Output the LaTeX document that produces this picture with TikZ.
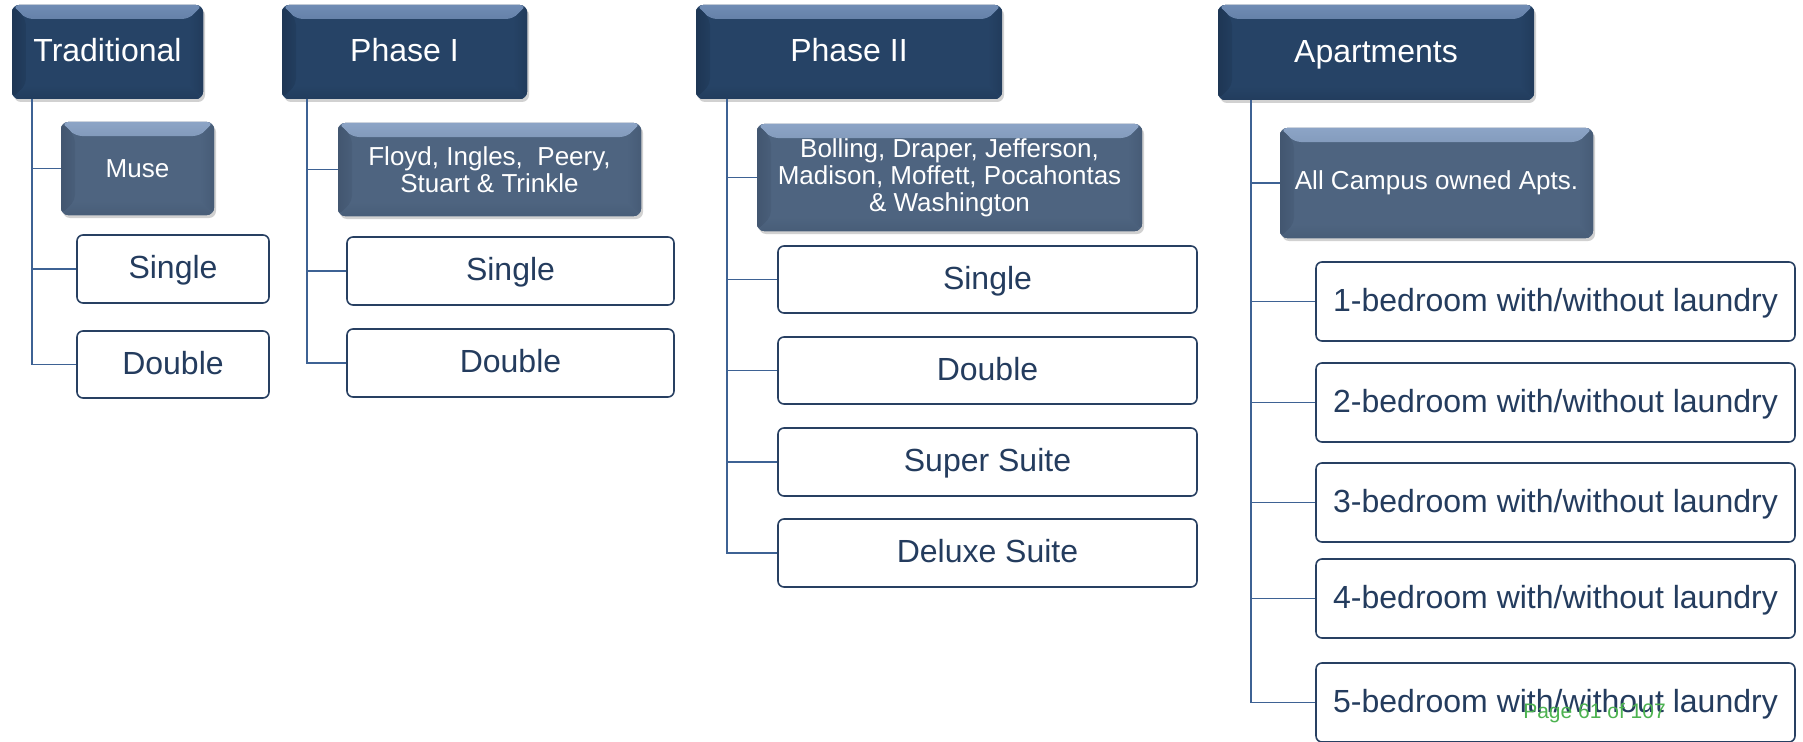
\documentclass[tikz,border=0pt]{standalone}
\usepackage{fontspec}
\setmainfont{Liberation Sans}
\usetikzlibrary{shadows,calc}
\definecolor{navy}{RGB}{38,67,102}
\definecolor{navylight}{RGB}{112,140,180}
\definecolor{navydark}{RGB}{30,54,84}
\definecolor{slate}{RGB}{78,100,128}
\definecolor{slatelight}{RGB}{140,164,198}
\definecolor{slatedark}{RGB}{66,86,112}
\definecolor{framec}{RGB}{40,64,98}
\definecolor{textc}{RGB}{36,60,94}
\definecolor{linec}{RGB}{62,98,148}
\definecolor{pagegreen}{RGB}{76,178,80}
\newcommand{\bevelpic}[3]{%
  \fill[top color=#1, bottom color=#2] (path picture bounding box.north west) -- (path picture bounding box.north east) -- ([xshift=-14pt,yshift=-14pt]path picture bounding box.north east) -- ([xshift=14pt,yshift=-14pt]path picture bounding box.north west) -- cycle;
  \fill[left color=#3, right color=#3!40!#2] (path picture bounding box.north west) -- ([xshift=14pt,yshift=-14pt]path picture bounding box.north west) -- ([xshift=14pt,yshift=14pt]path picture bounding box.south west) -- (path picture bounding box.south west) -- cycle;
  \fill[right color=#3!60!#2, left color=#2] (path picture bounding box.north east) -- ([xshift=-14pt,yshift=-14pt]path picture bounding box.north east) -- ([xshift=-14pt,yshift=14pt]path picture bounding box.south east) -- (path picture bounding box.south east) -- cycle;
  \fill[bottom color=#3!50!#2, top color=#2] (path picture bounding box.south west) -- ([xshift=14pt,yshift=14pt]path picture bounding box.south west) -- ([xshift=-14pt,yshift=14pt]path picture bounding box.south east) -- (path picture bounding box.south east) -- cycle;
}
\tikzset{
  topbox/.style={rounded corners=7pt, fill=navy, inner sep=0pt, text=white,
    font=\fontsize{32}{36}\selectfont, minimum height=94pt, text height=23pt, text depth=3pt,
    drop shadow={shadow xshift=2pt, shadow yshift=-3pt, opacity=0.3, fill=black!60},
    path picture={\bevelpic{navylight}{navy}{navydark}}},
  subbox/.style={rounded corners=7pt, fill=slate, inner sep=0pt, text=white, align=center,
    font=\fontsize{26}{27}\selectfont,
    drop shadow={shadow xshift=2pt, shadow yshift=-3pt, opacity=0.3, fill=black!60},
    path picture={\bevelpic{slatelight}{slate}{slatedark}}},
  leafbox/.style={rounded corners=6pt, draw=framec, line width=1.6pt, fill=white, inner sep=0pt,
    text=textc, font=\fontsize{32}{36}\selectfont, text height=23pt, text depth=4pt},
  conn/.style={draw=linec, line width=1.6pt},
}
\begin{document}
\begin{tikzpicture}[x=1pt,y=-1pt]
\useasboundingbox (0,0) rectangle (1803,741);
% top level
\node[topbox, minimum width=191pt] (T1) at (107.5,52) {Traditional};
\node[topbox, minimum width=245pt] (T2) at (404.5,52) {Phase I};
\node[topbox, minimum width=306pt] (T3) at (849,52) {Phase II};
\node[topbox, minimum width=316pt, minimum height=95pt] (T4) at (1376,52.5) {Apartments};
% second level
\node[subbox, minimum width=153pt, minimum height=93pt] (S1) at (137.5,168.5) {Muse};
\node[subbox, minimum width=303pt, minimum height=93pt] (S2) at (489.5,169.5) {Floyd, Ingles,\ \ Peery,\\Stuart \& Trinkle};
\node[subbox, minimum width=385pt, minimum height=107pt] (S3) at (949.5,177.5) {Bolling, Draper, Jefferson,\\Madison, Moffett, Pocahontas\\\& Washington};
\node[subbox, minimum width=313pt, minimum height=110pt] (S4) at (1436.5,183) {All Campus owned Apts.};
% leaves column 1
\node[leafbox, minimum width=192pt, minimum height=68pt] (A1) at (173,269) {Single};
\node[leafbox, minimum width=192pt, minimum height=67pt] (A2) at (173,364.5) {Double};
% column 2
\node[leafbox, minimum width=327pt, minimum height=68pt] (B1) at (510.5,271) {Single};
\node[leafbox, minimum width=327pt, minimum height=68pt] (B2) at (510.5,363) {Double};
% column 3
\node[leafbox, minimum width=419pt, minimum height=67pt] (C1) at (987.5,279.5) {Single};
\node[leafbox, minimum width=419pt, minimum height=67pt] (C2) at (987.5,370.5) {Double};
\node[leafbox, minimum width=419pt, minimum height=68pt] (C3) at (987.5,462) {Super Suite};
\node[leafbox, minimum width=419pt, minimum height=68pt] (C4) at (987.5,553) {Deluxe Suite};
% column 4
\node[leafbox, minimum width=479pt, minimum height=79pt] (D1) at (1555.5,301.5) {1-bedroom with/without laundry};
\node[leafbox, minimum width=479pt, minimum height=79pt] (D2) at (1555.5,402.5) {2-bedroom with/without laundry};
\node[leafbox, minimum width=479pt, minimum height=79pt] (D3) at (1555.5,502.5) {3-bedroom with/without laundry};
\node[leafbox, minimum width=479pt, minimum height=79pt] (D4) at (1555.5,598.5) {4-bedroom with/without laundry};
\node[leafbox, minimum width=479pt, minimum height=79pt] (D5) at (1555.5,702.5) {5-bedroom with/without laundry};
% connectors
\draw[conn] ([xshift=20pt]T1.south west) |- (S1.west);
\draw[conn] ([xshift=20pt]T1.south west) |- (A1.west);
\draw[conn] ([xshift=20pt]T1.south west) |- (A2.west);
\draw[conn] ([xshift=25pt]T2.south west) |- (S2.west);
\draw[conn] ([xshift=25pt]T2.south west) |- (B1.west);
\draw[conn] ([xshift=25pt]T2.south west) |- (B2.west);
\draw[conn] ([xshift=31pt]T3.south west) |- (S3.west);
\draw[conn] ([xshift=31pt]T3.south west) |- (C1.west);
\draw[conn] ([xshift=31pt]T3.south west) |- (C2.west);
\draw[conn] ([xshift=31pt]T3.south west) |- (C3.west);
\draw[conn] ([xshift=31pt]T3.south west) |- (C4.west);
\draw[conn] ([xshift=33pt]T4.south west) |- (S4.west);
\draw[conn] ([xshift=33pt]T4.south west) |- (D1.west);
\draw[conn] ([xshift=33pt]T4.south west) |- (D2.west);
\draw[conn] ([xshift=33pt]T4.south west) |- (D3.west);
\draw[conn] ([xshift=33pt]T4.south west) |- (D4.west);
\draw[conn] ([xshift=33pt]T4.south west) |- (D5.west);
% page footer
\node[anchor=base, text=pagegreen, font=\fontsize{21}{24}\selectfont, inner sep=0pt] (pg) at (1594.5,718) {Page 61 of 107};
\end{tikzpicture}
\end{document}
